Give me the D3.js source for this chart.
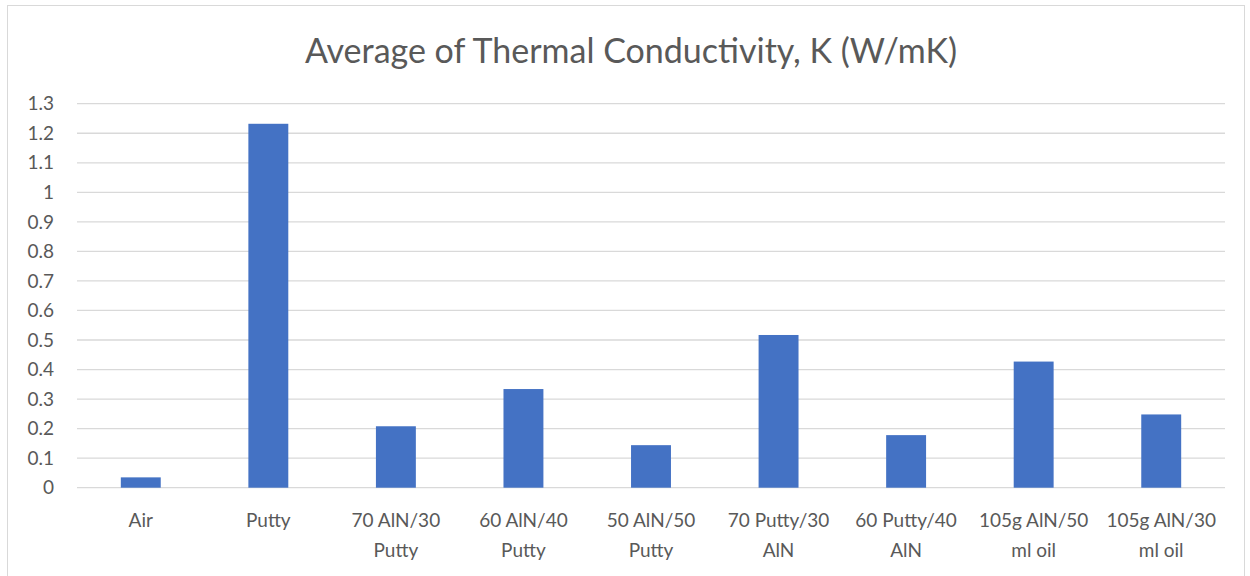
<!DOCTYPE html>
<html>
<head>
<meta charset="utf-8">
<script src="https://cdn.jsdelivr.net/npm/d3@7"></script>
<style>
  body { margin: 0; background: #fff; }
  text { font-family: Lato, "Open Sans", sans-serif; fill: #595959; }
</style>
</head>
<body>
<div id="chart"></div>
<script>
const title = 'Average of Thermal Conductivity, K (W/mK)';
const categories = ['Air', 'Putty', '70 AlN/30 Putty', '60 AlN/40 Putty', '50 AlN/50 Putty',
  '70 Putty/30 AlN', '60 Putty/40 AlN', '105g AlN/50 ml oil', '105g AlN/30 ml oil'];
const values = [0.035, 1.232, 0.208, 0.334, 0.144, 0.517, 0.178, 0.427, 0.248];
const yTicks = [0, 0.1, 0.2, 0.3, 0.4, 0.5, 0.6, 0.7, 0.8, 0.9, 1, 1.1, 1.2, 1.3];

const width = 1250, height = 576;
const margin = { top: 103.7, right: 25, bottom: 88.3, left: 77 };

const svg = d3.select('#chart').append('svg')
  .attr('width', width)
  .attr('height', height);

// chart frame
svg.append('rect')
  .attr('x', 7.5).attr('y', 5.5)
  .attr('width', 1237).attr('height', 600)
  .attr('fill', '#fff')
  .attr('stroke', '#d9d9d9');

const x = d3.scaleBand()
  .domain(categories)
  .range([margin.left, width - margin.right])
  .paddingInner(0.687)
  .paddingOuter(0.3435);

const y = d3.scaleLinear()
  .domain([0, 1.3])
  .range([height - margin.bottom, margin.top]);

// gridlines
svg.append('g')
  .selectAll('line')
  .data(yTicks)
  .join('line')
  .attr('x1', margin.left)
  .attr('x2', width - margin.right)
  .attr('y1', d => y(d))
  .attr('y2', d => y(d))
  .attr('stroke', '#d9d9d9')
  .attr('stroke-width', 1.3);

// y labels
svg.append('g')
  .selectAll('text')
  .data(yTicks)
  .join('text')
  .attr('x', 54)
  .attr('y', d => y(d))
  .attr('dy', '0.35em')
  .attr('text-anchor', 'end')
  .attr('font-size', 19)
  .text(d => d3.format('~g')(d));

// bars
svg.append('g')
  .selectAll('rect')
  .data(values)
  .join('rect')
  .attr('x', (d, i) => x(categories[i]))
  .attr('width', x.bandwidth())
  .attr('y', d => y(d))
  .attr('height', d => y(0) - y(d))
  .attr('fill', '#4472c4');

// category labels, wrapped to the band step
const step = x.step();
const labels = svg.append('g')
  .selectAll('text')
  .data(categories)
  .join('text')
  .attr('text-anchor', 'middle')
  .attr('font-size', 19)
  .attr('x', d => x(d) + x.bandwidth() / 2)
  .attr('y', 527);

labels.each(function (d) {
  const el = d3.select(this);
  const words = d.split(' ');
  const lines = [];
  let cur = [];
  words.forEach(w => {
    const test = cur.concat([w]).join(' ');
    el.text(test);
    if (this.getComputedTextLength() > step - 4 && cur.length) {
      lines.push(cur.join(' '));
      cur = [w];
    } else {
      cur.push(w);
    }
  });
  lines.push(cur.join(' '));
  el.text(null);
  lines.forEach((l, i) => {
    el.append('tspan')
      .attr('x', x(d) + x.bandwidth() / 2)
      .attr('dy', i === 0 ? 0 : 30)
      .text(l);
  });
});

// title
svg.append('text')
  .attr('x', 631)
  .attr('y', 63)
  .attr('text-anchor', 'middle')
  .attr('font-size', 34)
  .text(title);
</script>
</body>
</html>
